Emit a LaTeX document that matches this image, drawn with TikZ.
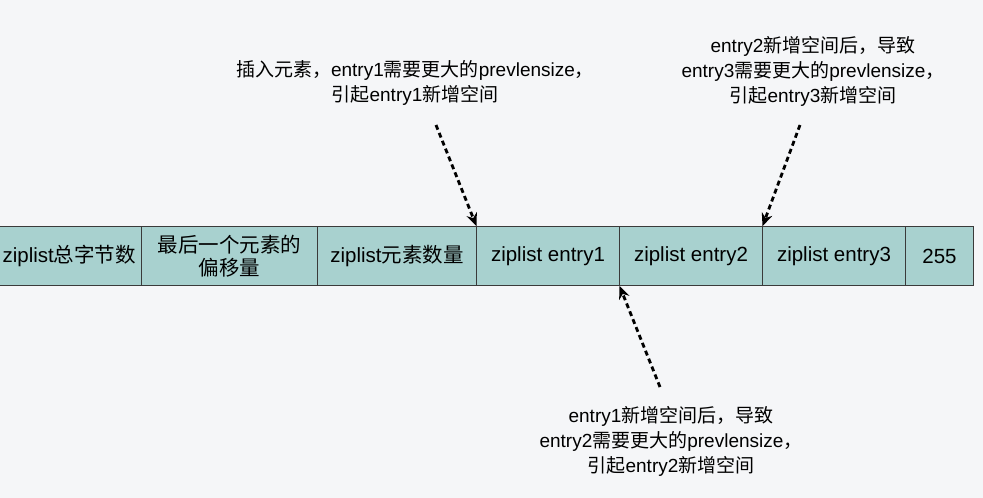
\documentclass[tikz,border=0pt]{standalone}
\usepackage{fontspec}
\setmainfont{Liberation Sans}
\newfontfamily\cjkfont{Noto Sans CJK SC}
\newcommand{\zh}[1]{{\cjkfont #1}}
\usepackage{xcolor}
\usepackage{tikz}
\usetikzlibrary{arrows.meta,positioning,calc}

\definecolor{bgcol}{HTML}{F5F6F8}
\definecolor{cellcol}{HTML}{A8D1CF}
\definecolor{linecol}{HTML}{3A3A3A}

\begin{document}
\begin{tikzpicture}[x=1pt,y=1pt,font=\fontsize{20.5}{23.5}\selectfont,
  cell/.style={draw=linecol,line width=0.9pt,fill=cellcol,minimum height=59.5,
    inner sep=0pt,outer sep=0pt,align=center},
  note/.style={align=center,font=\fontsize{19}{25}\selectfont},
  push/.style={line width=2.8pt,dash pattern=on 5pt off 3.5pt,-{Stealth[length=13pt,width=11pt]}}]
\fill[bgcol] (0,0) rectangle (983,498);
\useasboundingbox (0,0) rectangle (983,498);
% the ziplist layout
\begin{scope}
\clip (0,0) rectangle (983,498);
\node[cell,minimum width=144.5,anchor=west] (total) at (-3,242) {ziplist\zh{总字节数}};
\end{scope}
\node[cell,minimum width=176,right=0pt of total] (tail) {\zh{最后一个元素的}\\\zh{偏移量}};
\node[cell,minimum width=159,right=0pt of tail] (count) {ziplist\zh{元素数量}};
\node[cell,minimum width=143,right=0pt of count] (e1) {ziplist entry1};
\node[cell,minimum width=143,right=0pt of e1] (e2) {ziplist entry2};
\node[cell,minimum width=143,right=0pt of e2] (e3) {ziplist entry3};
\node[cell,minimum width=68,right=0pt of e3] (end) {255};
% notes
\node[note] (n1) at (415,415) {\zh{插入元素，}entry1\zh{需要更大的}prevlensize\zh{，}\\\zh{引起}entry1\zh{新增空间}};
\node[note] (n2) at (813,427) {entry2\zh{新增空间后，导致}\\entry3\zh{需要更大的}prevlensize\zh{，}\\\zh{引起}entry3\zh{新增空间}};
\node[note] (n3) at (671,57) {entry1\zh{新增空间后，导致}\\entry2\zh{需要更大的}prevlensize\zh{，}\\\zh{引起}entry2\zh{新增空间}};
\coordinate (s1) at (436,373);
\coordinate (s2) at (660,111);
\coordinate (s3) at (800,373);
\draw[push] (s1) -- (e1.north west);
\draw[push] (s2) -- (e2.south west);
\draw[push] (s3) -- (e3.north west);
\end{tikzpicture}
\end{document}
